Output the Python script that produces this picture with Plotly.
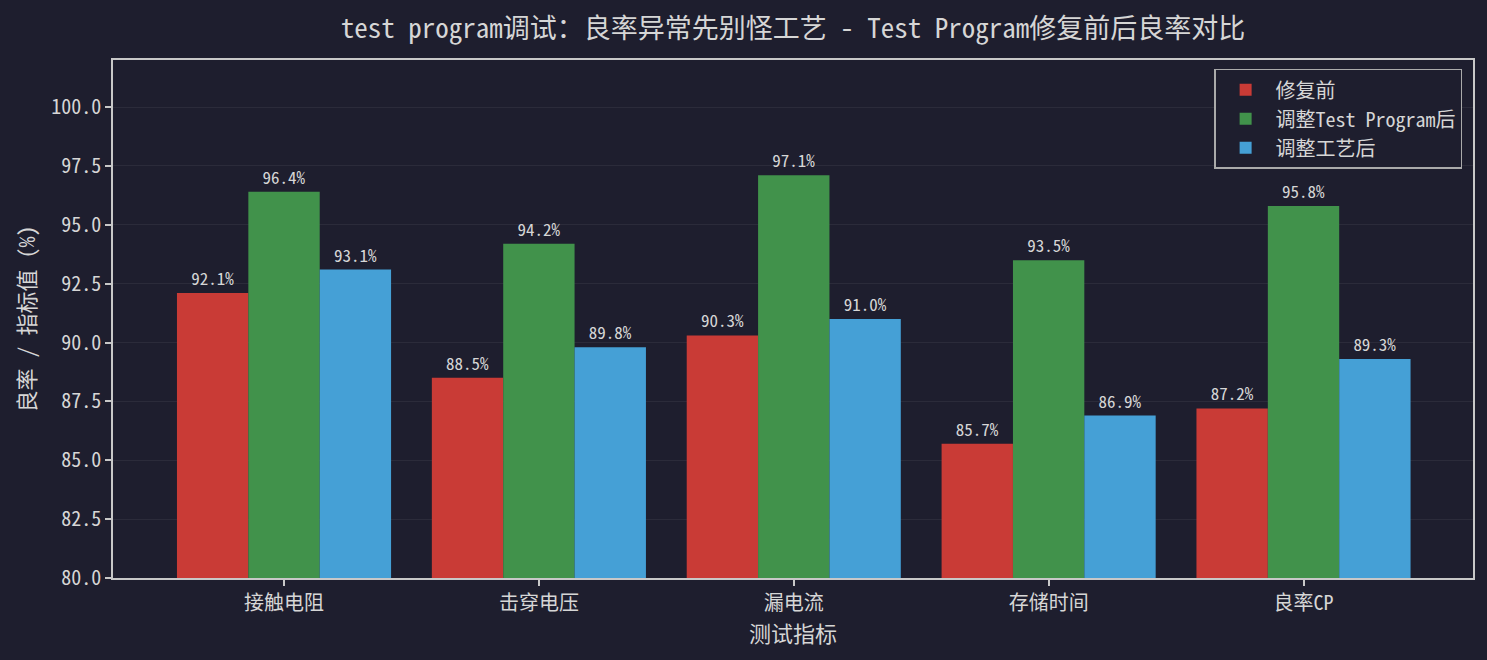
import plotly.graph_objects as go

# chart data
categories = ["接触电阻", "击穿电压", "漏电流", "存储时间", "良率CP"]
series_names = ["修复前", "调整Test Program后", "调整工艺后"]
before_fix = [92.1, 88.5, 90.3, 85.7, 87.2]
after_program = [96.4, 94.2, 97.1, 93.5, 95.8]
after_process = [93.1, 89.8, 91.0, 86.9, 89.3]
y_ticks = [80.0, 82.5, 85.0, 87.5, 90.0, 92.5, 95.0, 97.5, 100.0]

colors = ["#c93b36", "#41924b", "#45a0d6"]
FONT = "Noto Sans Mono CJK SC, Noto Sans CJK SC, DejaVu Sans Mono, monospace"
BG = "#1e1e2e"
FG = "#d6d6d6"
SPINE = "#c8c8c8"

fig = go.Figure()
for name, vals, col in zip(series_names, [before_fix, after_program, after_process], colors):
    fig.add_trace(go.Bar(
        x=categories,
        y=vals,
        name=name,
        marker=dict(color=col, line=dict(width=0)),
        text=[f"{v:.1f}%" for v in vals],
        textposition="outside",
        textfont=dict(family=FONT, size=17, color=FG),
        cliponaxis=False,
    ))

fig.update_layout(
    width=1487,
    height=660,
    barmode="group",
    bargap=0.16,
    bargroupgap=0,
    paper_bgcolor=BG,
    plot_bgcolor=BG,
    font=dict(family=FONT, color=FG, size=20),
    margin=dict(l=113, r=14, t=60, b=82),
    title=dict(
        text="test program调试：良率异常先别怪工艺 - Test Program修复前后良率对比",
        x=0.5, xref="paper", xanchor="center", y=0.957, yanchor="middle",
        font=dict(family=FONT, size=27, color=FG),
    ),
    legend=dict(
        x=0.992, y=0.983, xanchor="right", yanchor="top",
        bgcolor=BG, bordercolor="#aaaaaa", borderwidth=1.5,
        font=dict(family=FONT, size=20, color=FG),
        itemwidth=50,
    ),
    showlegend=True,
)

fig.update_xaxes(
    title=dict(text="测试指标", font=dict(family=FONT, size=22, color=FG), standoff=6),
    range=[-0.671, 4.665],
    showline=True, linecolor=SPINE, linewidth=1.5, mirror=True,
    ticks="outside", ticklen=6, tickcolor=SPINE, tickwidth=1.5,
    showgrid=False,
    tickfont=dict(family=FONT, size=20, color=FG),
)
fig.update_yaxes(
    title=dict(text="良率 / 指标值 (%)", font=dict(family=FONT, size=22, color=FG), standoff=10),
    range=[80, 102],
    tickvals=y_ticks,
    ticktext=[f"{t:.1f}" for t in y_ticks],
    showline=True, linecolor=SPINE, linewidth=1.5, mirror=True,
    ticks="outside", ticklen=6, tickcolor=SPINE, tickwidth=1.5,
    showgrid=True, gridcolor="rgba(70,70,80,0.35)", gridwidth=1,
    zeroline=False,
    layer="above traces",
    tickfont=dict(family=FONT, size=20, color=FG),
)

fig.write_html(
    "out.html",
    config={"displayModeBar": False},
    post_script="document.body.style.margin='0';",
)
